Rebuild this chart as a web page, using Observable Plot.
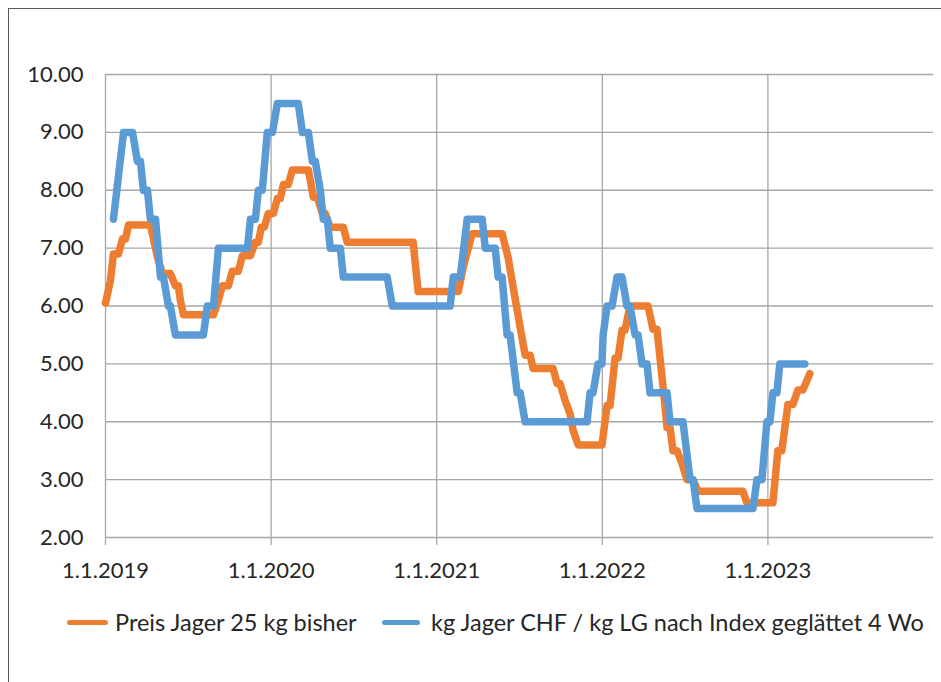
<!DOCTYPE html>
<html>
<head>
<meta charset="utf-8">
<script src="https://cdn.jsdelivr.net/npm/d3@7"></script>
<script src="https://cdn.jsdelivr.net/npm/@observablehq/plot@0.6"></script>
<style>
  html, body { margin: 0; padding: 0; background: #fff; }
  #wrap { position: relative; width: 941px; height: 682px; overflow: hidden; font-family: Lato, "Open Sans", sans-serif; }
  #frame { position: absolute; left: 8px; top: 8px; width: 1000px; height: 1000px; border-left: 1.5px solid #595959; border-top: 1.5px solid #595959; box-sizing: border-box; }
  #chart { position: absolute; left: 0; top: 0; }
  .legend { position: absolute; top: 607px; left: 0; width: 941px; height: 30px; font-size: 23.5px; color: #262626; }
  .sw { position: absolute; top: 13px; height: 5px; border-radius: 3px; }
  .lab { position: absolute; top: 0; height: 30px; line-height: 30px; white-space: nowrap; }
</style>
</head>
<body>
<div id="wrap">
  <div id="frame"></div>
  <div id="chart"></div>
  <div class="legend" id="legend"></div>
</div>
<script>
// Series names
const seriesNames = ["Preis Jager 25 kg bisher", "kg Jager CHF / kg LG nach Index geglättet 4 Wo"];
const seriesColors = ["#ED7D31", "#5B9BD5"];

// X tick labels (years, shown as 1.1.YYYY)
const xTicks = [2019, 2020, 2021, 2022, 2023];
const yTicks = [2, 3, 4, 5, 6, 7, 8, 9, 10];

// Orange series: "Preis Jager 25 kg bisher" (decimal year, CHF)
const orangeX = [2019.000, 2019.030, 2019.048, 2019.078, 2019.103, 2019.121, 2019.139, 2019.271, 2019.314, 2019.344,
  2019.392, 2019.422, 2019.440, 2019.452, 2019.471, 2019.652, 2019.682, 2019.706, 2019.742, 2019.766,
  2019.802, 2019.827, 2019.875, 2019.905, 2019.923, 2019.941, 2019.959, 2019.983, 2020.014, 2020.038,
  2020.056, 2020.074, 2020.104, 2020.128, 2020.225, 2020.255, 2020.279, 2020.309, 2020.327, 2020.357,
  2020.436, 2020.460, 2020.858, 2020.888, 2021.130, 2021.160, 2021.214, 2021.395, 2021.431, 2021.462,
  2021.504, 2021.534, 2021.564, 2021.582, 2021.703, 2021.727, 2021.745, 2021.775, 2021.805, 2021.824,
  2021.854, 2021.998, 2022.029, 2022.047, 2022.077, 2022.095, 2022.119, 2022.137, 2022.167, 2022.276,
  2022.306, 2022.330, 2022.367, 2022.391, 2022.409, 2022.427, 2022.451, 2022.481, 2022.511, 2022.548,
  2022.578, 2022.849, 2022.873, 2023.030, 2023.060, 2023.084, 2023.121, 2023.151, 2023.181, 2023.211,
  2023.253];
const orangeY = [6.05, 6.44, 6.9, 6.9, 7.16, 7.16, 7.4, 7.4, 6.84, 6.56,
  6.56, 6.35, 6.35, 6.1, 5.85, 5.85, 6.1, 6.35, 6.35, 6.6,
  6.6, 6.87, 6.87, 7.1, 7.1, 7.36, 7.36, 7.6, 7.6, 7.86,
  7.86, 8.1, 8.1, 8.35, 8.35, 7.88, 7.88, 7.6, 7.6, 7.36,
  7.36, 7.1, 7.1, 6.25, 6.25, 6.67, 7.25, 7.25, 6.84, 6.32,
  5.63, 5.15, 5.15, 4.92, 4.92, 4.66, 4.66, 4.37, 4.14, 3.85,
  3.6, 3.6, 4.28, 4.28, 5.1, 5.1, 5.58, 5.58, 6.0, 6.0,
  5.6, 5.6, 4.6, 3.9, 3.9, 3.5, 3.5, 3.28, 3.0, 3.0,
  2.8, 2.8, 2.6, 2.6, 3.5, 3.5, 4.3, 4.3, 4.55, 4.55,
  4.83];

// Blue series: "kg Jager CHF / kg LG nach Index geglättet 4 Wo"
const blueX = [2019.048, 2019.109, 2019.163, 2019.193, 2019.211, 2019.229, 2019.253, 2019.271, 2019.302, 2019.332,
  2019.350, 2019.380, 2019.392, 2019.422, 2019.591, 2019.615, 2019.652, 2019.682, 2019.857, 2019.875,
  2019.905, 2019.923, 2019.947, 2019.977, 2020.008, 2020.038, 2020.164, 2020.189, 2020.225, 2020.249,
  2020.267, 2020.297, 2020.315, 2020.339, 2020.357, 2020.418, 2020.436, 2020.701, 2020.732, 2021.081,
  2021.100, 2021.142, 2021.184, 2021.275, 2021.293, 2021.353, 2021.371, 2021.395, 2021.425, 2021.443,
  2021.486, 2021.504, 2021.534, 2021.908, 2021.926, 2021.944, 2021.974, 2021.998, 2022.005, 2022.029,
  2022.059, 2022.089, 2022.119, 2022.149, 2022.167, 2022.198, 2022.216, 2022.240, 2022.270, 2022.288,
  2022.391, 2022.409, 2022.487, 2022.530, 2022.548, 2022.572, 2022.910, 2022.934, 2022.964, 2022.994,
  2023.012, 2023.030, 2023.054, 2023.072, 2023.223];
const blueY = [7.5, 9.0, 9.0, 8.5, 8.5, 8.0, 8.0, 7.5, 7.5, 6.5,
  6.5, 6.0, 6.0, 5.5, 5.5, 6.0, 6.0, 7.0, 7.0, 7.5,
  7.5, 8.0, 8.0, 9.0, 9.0, 9.5, 9.5, 9.0, 9.0, 8.5,
  8.5, 8.0, 7.5, 7.5, 7.0, 7.0, 6.5, 6.5, 6.0, 6.0,
  6.5, 6.5, 7.5, 7.5, 7.0, 7.0, 6.5, 6.5, 5.5, 5.5,
  4.5, 4.5, 4.0, 4.0, 4.5, 4.5, 5.0, 5.0, 5.5, 6.0,
  6.0, 6.5, 6.5, 6.0, 6.0, 5.5, 5.5, 5.0, 5.0, 4.5,
  4.5, 4.0, 4.0, 3.0, 3.0, 2.5, 2.5, 3.0, 3.0, 4.0,
  4.0, 4.5, 4.5, 5.0, 5.0];

const orange = orangeX.map((x, i) => ({x, y: orangeY[i]}));
const blue = blueX.map((x, i) => ({x, y: blueY[i]}));

const grid = "#a6a6a6";
const textColor = "#262626";

const chart = Plot.plot({
  width: 941,
  height: 682,
  marginLeft: 105,
  marginRight: 8,
  marginTop: 74,
  marginBottom: 145,
  style: {fontFamily: "Lato, 'Open Sans', sans-serif", fontSize: "22px", color: textColor, background: "transparent"},
  x: {domain: [2019, 2024], label: null},
  y: {domain: [2, 10], label: null},
  marks: [
    Plot.gridY(yTicks, {stroke: grid, strokeOpacity: 1, strokeWidth: 1.3}),
    Plot.ruleX(xTicks, {y1: 2, y2: 10, stroke: grid, strokeWidth: 1.3}),
    Plot.axisY(yTicks, {tickSize: 0, tickPadding: 22, tickFormat: d => d.toFixed(2), fill: textColor, fontSize: 22}),
    Plot.axisX(xTicks, {tickSize: 8, tickPadding: 17, tickFormat: d => `1.1.${d}`, stroke: grid, strokeWidth: 1.3, fill: textColor, fontSize: 22}),
    Plot.line(orange, {x: "x", y: "y", stroke: seriesColors[0], strokeWidth: 7.5, strokeLinejoin: "round", strokeLinecap: "round"}),
    Plot.line(blue, {x: "x", y: "y", stroke: seriesColors[1], strokeWidth: 7.5, strokeLinejoin: "round", strokeLinecap: "round"})
  ]
});
document.getElementById("chart").appendChild(chart);

const legend = document.getElementById("legend");
const swLeft = [67, 382], swWidth = [41, 38], labLeft = [115, 431];
seriesNames.forEach((name, i) => {
  const sw = document.createElement("div");
  sw.className = "sw";
  sw.style.left = swLeft[i] + "px";
  sw.style.width = swWidth[i] + "px";
  sw.style.background = seriesColors[i];
  const label = document.createElement("span");
  label.className = "lab";
  label.style.left = labLeft[i] + "px";
  label.textContent = name;
  legend.appendChild(sw);
  legend.appendChild(label);
});
</script>
</body>
</html>
